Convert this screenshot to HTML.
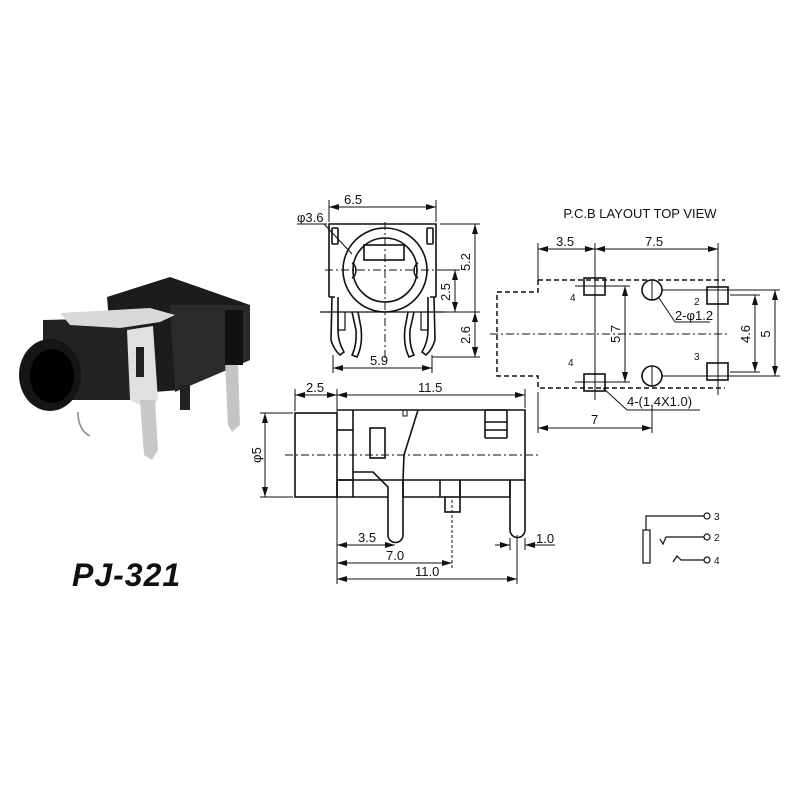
<!DOCTYPE html>
<html><head><meta charset="utf-8"><style>
html,body{margin:0;padding:0;background:#fff;}
svg{display:block;}
text{font-family:"Liberation Sans",sans-serif;fill:#111;}
</style></head><body>
<svg width="800" height="800" viewBox="0 0 800 800" xmlns="http://www.w3.org/2000/svg">
<defs>
<marker id="a" viewBox="0 0 10 6" refX="10" refY="3" markerWidth="10" markerHeight="6" orient="auto-start-reverse" markerUnits="userSpaceOnUse"><path d="M0,0 L10,3 L0,6z" fill="#111"/></marker>
</defs>
<g stroke="#111" fill="none" stroke-width="1.6">
<!-- ===== Photo approximation ===== -->
<g stroke="none">
<polygon points="107,297 170,277 250,305 250,360 180,390 115,395" fill="#1c1c1c"/>
<polygon points="170,305 250,305 250,360 175,392" fill="#2a2a2a"/>
<polygon points="43,320 127,318 135,330 135,400 60,400 43,390" fill="#222"/>
<polygon points="60,313 150,308 175,315 160,322 120,328 70,325" fill="#d9d9d9"/>
<polygon points="127,330 153,326 158,400 150,410 130,400" fill="#e0e0e0"/>
<rect x="136" y="347" width="8" height="30" fill="#222"/>
<polygon points="140,400 155,400 158,450 152,460 144,455" fill="#c8c8c8"/>
<ellipse cx="50" cy="375" rx="31" ry="36" fill="#151515"/>
<ellipse cx="52" cy="376" rx="22" ry="27" fill="#000"/>
<path d="M225,362 L238,362 L240,425 L232,432 L228,425z" fill="#c4c4c4"/>
<rect x="180" y="385" width="10" height="25" fill="#222"/>
<rect x="225" y="310" width="18" height="55" fill="#111"/>
</g>
<path d="M78,412 Q78,430 90,436" stroke="#888" stroke-width="1.5"/>

<!-- ===== Front view ===== -->
<path d="M329,297 L329,224 L436,224 L436,297"/>
<line x1="320" y1="312" x2="445" y2="312" stroke-width="1.2"/>
<path d="M335,297 L329,297 M430,297 L436,297"/>
<rect x="332" y="228" width="6" height="16" rx="1"/>
<rect x="427" y="228" width="6" height="16" rx="1"/>
<circle cx="385" cy="270" r="42"/>
<circle cx="385" cy="270" r="32"/>
<rect x="364" y="245" width="40" height="15"/>
<path d="M352,263 A6,8 0 0 1 352,278"/>
<path d="M418,263 A6,8 0 0 0 418,278"/>
<path d="M332,297 L331,340 Q334,350 340,355 L344,352 Q338,342 338,330 L338,297"/>
<path d="M352,312 L356,330 Q357,345 352,355 L357,357 Q363,345 361,328 L358,312"/>
<path d="M434,297 L435,340 Q432,350 426,355 L422,352 Q428,342 428,330 L428,297"/>
<path d="M414,312 L410,330 Q409,345 414,355 L409,357 Q403,345 405,328 L408,312"/>
<path d="M338,312 L338,330 L345,330 L345,312 M428,312 L428,330 L421,330 L421,312" stroke-width="1.2"/>
<g stroke-width="1" stroke-dasharray="8,3,2,3">
<line x1="325" y1="270" x2="450" y2="270"/>
<line x1="385" y1="222" x2="385" y2="362"/>
</g>
<g stroke-width="1">
<line x1="329" y1="200" x2="329" y2="222"/><line x1="436" y1="200" x2="436" y2="222"/>
<line x1="329" y1="207" x2="436" y2="207" marker-start="url(#a)" marker-end="url(#a)"/>
<line x1="297" y1="224" x2="327" y2="224"/>
<line x1="324" y1="224" x2="352" y2="254"/>
<line x1="440" y1="224" x2="480" y2="224"/>
<line x1="440" y1="270" x2="460" y2="270"/>
<line x1="440" y1="312" x2="480" y2="312"/>
<line x1="432" y1="357" x2="480" y2="357"/>
<line x1="475" y1="224" x2="475" y2="357" marker-start="url(#a)" marker-end="url(#a)"/>
<line x1="455" y1="270" x2="455" y2="312" marker-start="url(#a)" marker-end="url(#a)"/>
<line x1="475" y1="312" x2="475" y2="357" marker-start="url(#a)" marker-end="url(#a)"/>
<line x1="333" y1="355" x2="333" y2="373"/><line x1="432" y1="355" x2="432" y2="373"/>
<line x1="333" y1="368" x2="432" y2="368" marker-start="url(#a)" marker-end="url(#a)"/>
</g>

<!-- ===== PCB layout ===== -->
<path d="M538,280 L725,280 M538,280 L538,292 L497,292 L497,376 L538,376 L538,388 L725,388" stroke-dasharray="5,3" stroke-width="1.5"/>
<g stroke-width="1">
<line x1="538" y1="243" x2="538" y2="280"/>
<line x1="595" y1="243" x2="595" y2="400"/>
<line x1="718" y1="243" x2="718" y2="395"/>
<line x1="538" y1="249" x2="595" y2="249" marker-start="url(#a)" marker-end="url(#a)"/>
<line x1="595" y1="249" x2="718" y2="249" marker-start="url(#a)" marker-end="url(#a)"/>
<line x1="490" y1="334" x2="730" y2="334" stroke-dasharray="8,3,2,3"/>
<line x1="652" y1="280" x2="652" y2="300"/>
<line x1="652" y1="366" x2="652" y2="386"/>
<line x1="575" y1="286" x2="630" y2="286"/>
<line x1="575" y1="382" x2="630" y2="382"/>
<line x1="625" y1="286" x2="625" y2="382" marker-start="url(#a)" marker-end="url(#a)"/>
<line x1="662" y1="290" x2="780" y2="290"/>
<line x1="662" y1="376" x2="780" y2="376"/>
<line x1="730" y1="295" x2="760" y2="295"/>
<line x1="730" y1="372" x2="760" y2="372"/>
<line x1="755" y1="295" x2="755" y2="372" marker-start="url(#a)" marker-end="url(#a)"/>
<line x1="775" y1="290" x2="775" y2="376" marker-start="url(#a)" marker-end="url(#a)"/>
<line x1="659" y1="298" x2="675" y2="322"/><line x1="675" y1="322" x2="710" y2="322"/>
<line x1="603" y1="388" x2="627" y2="410"/><line x1="627" y1="410" x2="700" y2="410"/>
<line x1="538" y1="392" x2="538" y2="433"/><line x1="652" y1="405" x2="652" y2="433"/>
<line x1="538" y1="428" x2="652" y2="428" marker-start="url(#a)" marker-end="url(#a)"/>
</g>
<rect x="584" y="278" width="21" height="17"/>
<rect x="584" y="374" width="21" height="17"/>
<rect x="707" y="287" width="21" height="17"/>
<rect x="707" y="363" width="21" height="17"/>
<circle cx="652" cy="290" r="10"/>
<circle cx="652" cy="376" r="10"/>

<!-- ===== Side view ===== -->
<rect x="295" y="413" width="42" height="84"/>
<path d="M337,410 L525,410 L525,480 L337,480"/>
<path d="M337,480 L337,497 L388,497 M403,497 L403,480 M403,497 L445,497 M460,497 L460,480 M510,480 L510,497 L460,497"/>
<line x1="353" y1="410" x2="353" y2="497"/>
<line x1="337" y1="430" x2="353" y2="430"/>
<line x1="337" y1="480" x2="353" y2="480"/>
<rect x="370" y="428" width="15" height="30"/>
<path d="M418,410 L404,455 L403,480"/>
<rect x="403" y="410" width="4" height="6" stroke-width="1"/>
<path d="M353,472 L373,472 L388,487 L388,535 A7.5,7.5 0 0 0 403,535 L403,480"/>
<path d="M510,480 L510,530 A7.5,7.5 0 0 0 525,530 L525,480"/>
<path d="M440,480 L440,497 M460,480 L460,497"/>
<rect x="445" y="497" width="15" height="15"/>
<rect x="485" y="410" width="22" height="28" rx="1"/>
<line x1="485" y1="422" x2="507" y2="422"/><line x1="485" y1="430" x2="507" y2="430"/>
<g stroke-width="1">
<line x1="285" y1="455" x2="540" y2="455" stroke-dasharray="8,3,2,3"/>
<line x1="452" y1="500" x2="452" y2="568" stroke-dasharray="3,2"/>
<line x1="295" y1="389" x2="295" y2="411"/><line x1="337" y1="389" x2="337" y2="584"/><line x1="525" y1="389" x2="525" y2="408"/>
<line x1="295" y1="395" x2="337" y2="395" marker-start="url(#a)" marker-end="url(#a)"/>
<line x1="337" y1="395" x2="525" y2="395" marker-start="url(#a)" marker-end="url(#a)"/>
<line x1="260" y1="413" x2="293" y2="413"/><line x1="260" y1="497" x2="293" y2="497"/>
<line x1="265" y1="413" x2="265" y2="497" marker-start="url(#a)" marker-end="url(#a)"/>
<line x1="337" y1="545" x2="395" y2="545" marker-start="url(#a)" marker-end="url(#a)"/>
<line x1="337" y1="563" x2="452" y2="563" marker-start="url(#a)" marker-end="url(#a)"/>
<line x1="517" y1="535" x2="517" y2="584"/>
<line x1="337" y1="579" x2="517" y2="579" marker-start="url(#a)" marker-end="url(#a)"/>
<line x1="510" y1="538" x2="510" y2="550"/><line x1="525" y1="538" x2="525" y2="550"/>
<line x1="495" y1="545" x2="510" y2="545" marker-end="url(#a)"/>
<line x1="555" y1="545" x2="525" y2="545" marker-end="url(#a)"/>
</g>

<!-- ===== Schematic ===== -->
<rect x="643" y="530" width="7" height="33" stroke-width="1.2"/>
<path d="M646,530 L646,516 L704,516" stroke-width="1.2"/>
<path d="M660,539 L663,544 L666,537 L704,537" stroke-width="1.2"/>
<path d="M673,562 L677,556 L681,560 L704,560" stroke-width="1.2"/>
<circle cx="707" cy="516" r="3" stroke-width="1.2"/>
<circle cx="707" cy="537" r="3" stroke-width="1.2"/>
<circle cx="707" cy="560" r="3" stroke-width="1.2"/>
</g>

<!-- ===== Text ===== -->
<g font-size="13">
<text x="344" y="204">6.5</text>
<text x="297" y="222">φ3.6</text>
<text x="470" y="262" transform="rotate(-90 470 262)" text-anchor="middle">5.2</text>
<text x="450" y="292" transform="rotate(-90 450 292)" text-anchor="middle">2.5</text>
<text x="470" y="335" transform="rotate(-90 470 335)" text-anchor="middle">2.6</text>
<text x="370" y="365">5.9</text>
<text x="640" y="218" text-anchor="middle" font-size="13">P.C.B LAYOUT TOP VIEW</text>
<text x="556" y="246">3.5</text>
<text x="645" y="246">7.5</text>
<text x="620" y="334" transform="rotate(-90 620 334)" text-anchor="middle">5.7</text>
<text x="750" y="334" transform="rotate(-90 750 334)" text-anchor="middle">4.6</text>
<text x="770" y="334" transform="rotate(-90 770 334)" text-anchor="middle">5</text>
<text x="675" y="320">2-φ1.2</text>
<text x="627" y="406">4-(1.4X1.0)</text>
<text x="591" y="424">7</text>
<text x="306" y="392">2.5</text>
<text x="418" y="392">11.5</text>
<text x="261" y="455" transform="rotate(-90 261 455)" text-anchor="middle">φ5</text>
<text x="358" y="542">3.5</text>
<text x="386" y="560">7.0</text>
<text x="415" y="576">11.0</text>
<text x="536" y="543">1.0</text>
</g>
<g font-size="10">
<text x="570" y="301">4</text>
<text x="568" y="366">4</text>
<text x="694" y="305">2</text>
<text x="694" y="360">3</text>
<text x="714" y="520">3</text>
<text x="714" y="541">2</text>
<text x="714" y="564">4</text>
</g>
<text x="72" y="586" font-size="32" font-weight="bold" font-style="italic" letter-spacing="1">PJ-321</text>
</svg>
</body></html>
